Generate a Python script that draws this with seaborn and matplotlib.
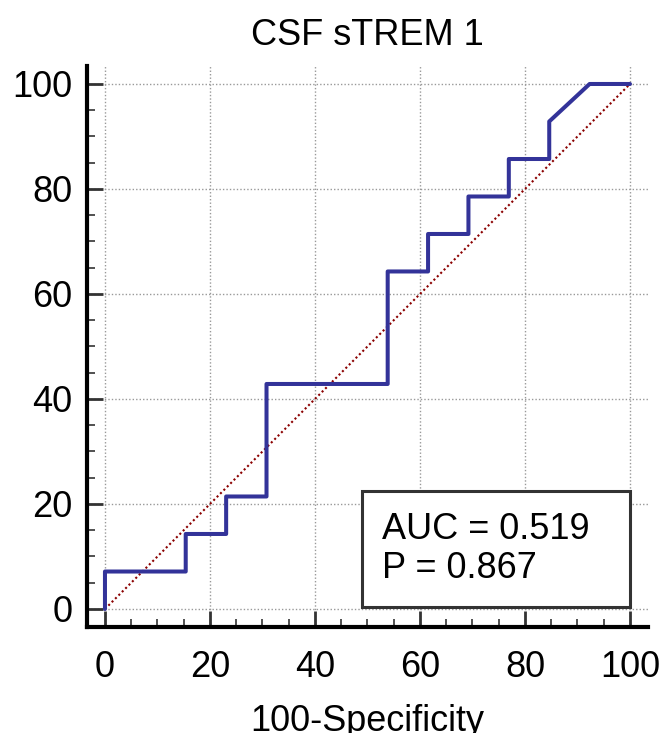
import pandas as pd
import seaborn as sns
import matplotlib.pyplot as plt
from matplotlib.patches import Rectangle
from matplotlib.ticker import MultipleLocator

# -----------------------------
# Data (ROC path)
# -----------------------------
fpr = [0, 0, 15.38, 15.38, 23.08, 23.08, 30.77, 30.77, 53.85, 53.85,
       61.54, 61.54, 69.23, 69.23, 76.92, 76.92, 84.62, 84.62, 92.31, 100]
tpr = [0, 7.14, 7.14, 14.29, 14.29, 21.43, 21.43, 42.86, 42.86, 64.29,
       64.29, 71.43, 71.43, 78.57, 78.57, 85.71, 85.71, 92.86, 100, 100]
ref_line = [0, 100]
ticks = [0, 20, 40, 60, 80, 100]
auc_text = "AUC = 0.519\nP = 0.867"
title = "CSF sTREM 1"
xlabel = "100-Specificity"

# -----------------------------
# Style
# -----------------------------
sns.set_style("white")
plt.rcParams["font.family"] = ["Liberation Sans", "DejaVu Sans"]
plt.rcParams["text.color"] = "black"
plt.rcParams["axes.labelcolor"] = "black"
FS = 26

fig = plt.figure(figsize=(6.62, 7.33), dpi=100)
ax = fig.add_axes([0.1308, 0.1441, 0.8486, 0.7664])

roc = pd.DataFrame({"fpr": fpr, "tpr": tpr})
diag = pd.DataFrame({"x": ref_line, "y": ref_line})

sns.lineplot(data=diag, x="x", y="y", ax=ax, color="#8B0000",
             linestyle=(0, (1, 1.3)), linewidth=1.5, zorder=2)
sns.lineplot(data=roc, x="fpr", y="tpr", ax=ax, sort=False, estimator=None,
             color="#333399", linewidth=2.9, zorder=3)

ax.set_xlim(-3.5, 103.5)
ax.set_ylim(-3.5, 103.5)
ax.set_xticks(ticks)
ax.set_yticks(ticks)
ax.xaxis.set_minor_locator(MultipleLocator(5))
ax.yaxis.set_minor_locator(MultipleLocator(5))
ax.grid(True, which="major", color="#999999", linestyle=(0, (1, 1.5)), linewidth=1)

for side in ["top", "right"]:
    ax.spines[side].set_visible(False)
for side in ["left", "bottom"]:
    ax.spines[side].set_linewidth(3)
    ax.spines[side].set_color("black")

ax.tick_params(which="both", bottom=True, left=True, top=False, right=False)
ax.tick_params(which="major", direction="in", length=11.5, width=2,
               color="#333333", labelsize=FS, labelcolor="black", pad=16)
ax.tick_params(which="minor", direction="in", length=6, width=1.2, color="#333333")
ax.tick_params(axis="y", which="major", pad=10)

ax.set_title(title, fontsize=FS, pad=15)
ax.set_xlabel(xlabel, fontsize=FS, labelpad=14)
ax.set_ylabel("")

# AUC box
ax.add_patch(Rectangle((48.9, 0.4), 51.1, 22.0, fill=True, facecolor="white",
                       edgecolor="#333333", linewidth=2.2, zorder=4))
ax.text(52.8, 11.4, auc_text, fontsize=FS, ha="left", va="center",
        linespacing=1.15, zorder=5)

plt.savefig("out.png", dpi=100)
plt.close()
